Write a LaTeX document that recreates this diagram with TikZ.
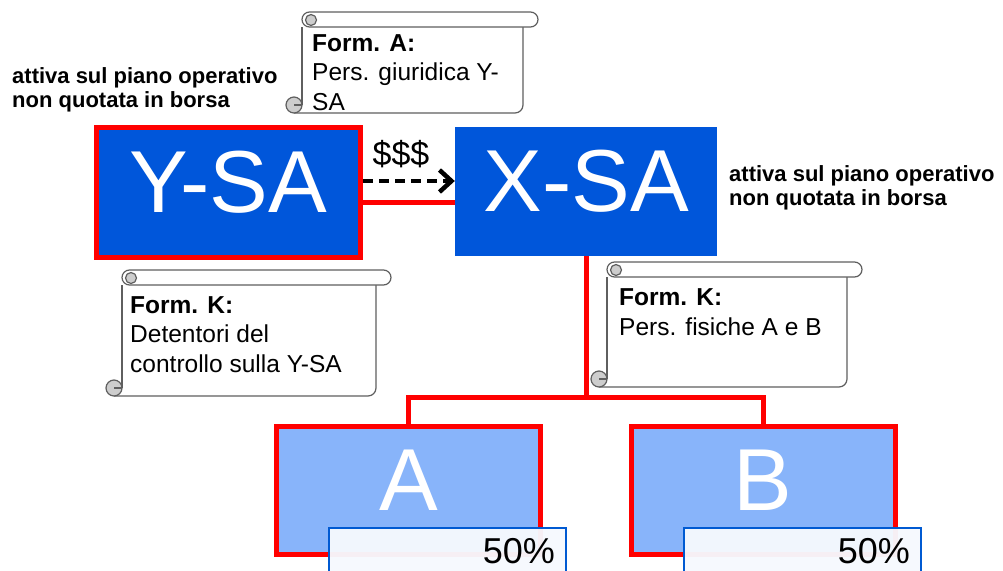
\documentclass[tikz,border=0pt]{standalone}
\usepackage{fontspec}
\setmainfont{Liberation Sans}
\usepackage{tikz}
\usetikzlibrary{positioning,calc,arrows.meta}

\definecolor{darkblue}{RGB}{0,86,218}
\definecolor{lightblue}{RGB}{136,180,250}
\definecolor{pctfill}{RGB}{246,249,254}
\definecolor{pctblue}{RGB}{0,90,210}
\definecolor{scrollgrey}{RGB}{95,95,95}
\definecolor{curlgrey}{RGB}{205,205,205}

\tikzset{
  bigbox/.style={rectangle, inner sep=0pt, minimum width=264pt, minimum height=130pt,
    text=white, font=\fontsize{88}{88}\selectfont, text height=63pt, text depth=24pt},
  redline/.style={draw=red, line width=5pt},
  pctbox/.style={rectangle, anchor=north west, draw=pctblue, line width=2pt,
    fill=pctfill, fill opacity=0.96, text opacity=1, minimum width=237pt, minimum height=60pt,
    text width=215pt, align=right, inner xsep=11pt, inner ysep=0pt,
    font=\fontsize{36}{36}\selectfont, text height=26pt, text depth=16pt},
  scrollline/.style={draw=scrollgrey, line width=1.2pt},
  scrolltext/.style={anchor=base west, align=left, inner sep=0pt, font=\fontsize{24.5}{29.5}\selectfont},
  sidetext/.style={anchor=base west, align=left, inner sep=0pt, font=\bfseries\fontsize{22}{24}\selectfont}
}

% pergamena: sinistra, alto, destra, basso
\newcommand{\pergamena}[4]{%
  \fill[white] (#1,#2+8) rectangle (#3,#4);
  \draw[scrollline] (#1,#2+15) -- (#1,#4-8);
  \draw[scrollline,rounded corners=8pt] (#1-8,#4) -- (#3,#4) -- (#3,#2+15);
  \draw[scrollline,fill=white,rounded corners=7.5pt] (#1,#2) rectangle (#3+15,#2+15);
  \draw[scrollline,fill=curlgrey] (#1+9,#2+8) circle (5.5pt);
  \draw[scrollline,fill=curlgrey] (#1-8,#4-8) circle (8pt);
  \draw[scrollline] (#1-8,#4-8) -- (#1,#4-8);
}

\begin{document}
\begin{tikzpicture}[x=1pt,y=-1pt]
    \clip (0,0) rectangle (1003,570);

    % Societa Y-SA e X-SA
    \node[bigbox, fill=darkblue, draw=red, line width=5pt] (ysa) at (228.5,192.5) {Y-SA};
    \node[bigbox, fill=darkblue, minimum width=262pt, minimum height=129pt] (xsa) at (586,191.5) {X-SA};

    % Flusso di denaro
    \draw[line width=4.5pt, dash pattern=on 10pt off 6pt, -{Straight Barb[length=12pt,width=22pt]}]
        ([yshift=11.5pt]ysa.east) -- ([yshift=10.5pt]xsa.west);
    \node[font=\fontsize{34}{34}\selectfont, anchor=base] (cash) at (401,165) {\$\$\$};
    \draw[redline] ([yshift=-9.5pt]ysa.east) -- ([yshift=-10.5pt]xsa.west);

    % Persone fisiche A e B
    \foreach \n/\x in {A/408.5, B/763}
        \node[bigbox, fill=lightblue, draw=red, line width=5pt, minimum height=128pt] (p\n) at (\x,490.5) {\n};
    \coordinate (split) at (586,397);
    \draw[redline] (xsa.south) -- (split);
    \draw[redline] (pA.north) |- (split) -| (pB.north);

    % Quote
    \foreach \n/\x in {A/328, B/683}
        \node[pctbox] (q\n) at (\x,527) {50\%};

    % Pergamene (base = ultima riga)
    \pergamena{302}{12}{523}{113}
    \pergamena{122}{270}{376}{396}
    \pergamena{607}{262}{847}{387}
    \node[scrolltext] (formA) at (312,110) {\textbf{Form. A:}\\Pers. giuridica Y-\\SA};
    \node[scrolltext] (formKy) at (130,372) {\textbf{Form. K:}\\Detentori del\\controllo sulla Y-SA};
    \node[scrolltext] (formKx) at (619,335) {\textbf{Form. K:}\\Pers. fisiche A e B};

    % Note
    \node[sidetext] (noteY) at (12,107) {attiva sul piano operativo\\non quotata in borsa};
    \node[sidetext] (noteX) at (729,205) {attiva sul piano operativo\\non quotata in borsa};
\end{tikzpicture}
\end{document}
